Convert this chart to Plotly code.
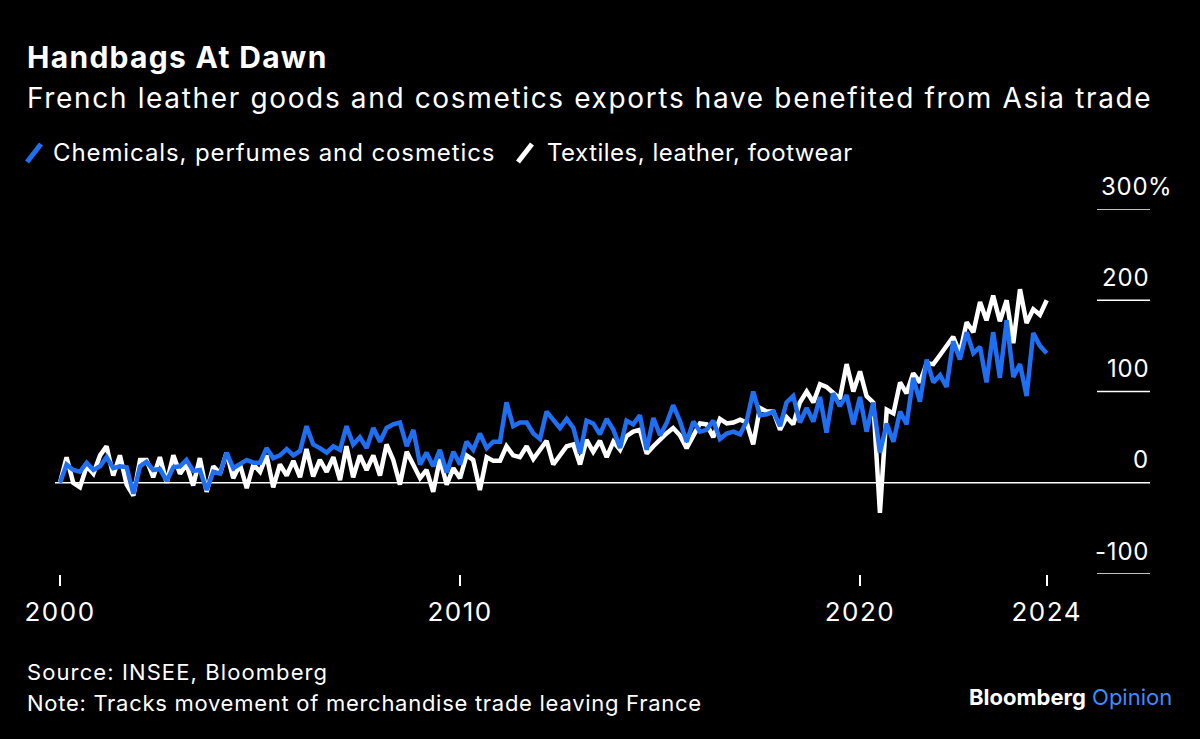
import pandas as pd
import plotly.graph_objects as go

# ---------------- data (bi-monthly, % change since Jan 2000) ----------------
start_month = "2000-01-01"

chemicals_perfumes_cosmetics = [
    0, 20, 14, 12, 22, 14, 18, 28, 16, 18,
    17, -12, 18, 23, 14, 15, 2, 17, 18, 25,
    13, 14, -8, 12, 10, 33, 16, 20, 25, 22,
    22, 38, 27, 30, 37, 30, 35, 62,
    42, 38, 33, 40, 36, 62, 42, 50, 38, 60,
    45, 60, 64, 66, 40, 58, 20, 33, 18, 36,
    11, 34, 20, 45, 36, 54, 38, 45, 45, 88,
    62, 66, 66, 54, 48, 78, 68,
    60, 70, 60, 32, 68, 65, 53, 70, 58, 38,
    68, 64, 74, 36, 71, 52, 65, 85, 68, 45,
    67, 56, 58, 68, 48, 54, 56, 53, 67, 100,
    74, 75, 78, 62, 88, 95, 66, 82,
    67, 94, 55, 98, 84, 96, 64, 94, 56, 88,
    33, 65, 45, 78, 64, 115, 89, 135, 110, 118,
    105, 155, 135, 165, 142, 149, 110, 165, 115, 178,
    116, 130, 95, 164, 150, 142,
]

textiles_leather_footwear = [
    0, 28, 0, -5, 18, 10, 30, 40, 8, 30,
    -2, -14, 25, 25, 6, 28, 0, 30, 10, 20,
    -3, 27, -10, 18, 10, 33, 5, 20, -6, 20,
    12, 30, -5, 20, 8, 24, 6, 37,
    7, 25, 12, 28, 3, 40, 6, 30, 14, 30,
    8, 42, 25, -2, 34, 20, 5, 14, -10, 26,
    -2, 16, 5, 30, 25, -8, 28, 24, 24, 40,
    30, 28, 40, 26, 36, 46, 20,
    30, 40, 42, 20, 47, 34, 46, 28, 45, 36,
    51, 56, 58, 32, 40, 48, 54, 60, 52, 38,
    52, 65, 64, 50, 70, 65, 66, 69, 66, 42,
    82, 78, 78, 58, 72, 64, 88, 100,
    88, 108, 105, 98, 92, 130, 100, 122, 95, 88,
    -33, 80, 76, 110, 98, 120, 110, 131, 130, 140,
    150, 160, 142, 176, 165, 198, 178, 205, 177, 200,
    153, 212, 175, 190, 184, 200,
]

series_names = ["Chemicals, perfumes and cosmetics", "Textiles, leather, footwear"]
x_tick_labels = ["2000", "2010", "2020", "2024"]
y_tick_values = [-100, 0, 100, 200, 300]
y_tick_labels = ["-100", "0", "100", "200", "300"]

dates = pd.date_range(start_month, periods=len(chemicals_perfumes_cosmetics), freq="2MS")
x_tick_dates = [pd.Timestamp("2000-01-01"), pd.Timestamp("2010-01-01"),
                pd.Timestamp("2020-01-01"), dates[-1]]

# ---------------- layout geometry ----------------
W, H = 1200, 739
L, R, T, B = 55, 50, 209, 165
PW, PH = W - L - R, H - T - B
BLUE = "#1f6ff2"
FONT = "Inter"


def px(x):
    return (x - L) / PW


def py(y):
    return (H - B - y) / PH


def spaced(txt, sp):
    return f"<span style='letter-spacing:{sp}px'>{txt}</span>"


year = pd.Timedelta(days=365.25)
x_start = pd.Timestamp("2000-01-01") - year * (5 / 40)
x_end = x_start + year * (PW / 40)

fig = go.Figure()
fig.add_trace(go.Scatter(x=dates, y=textiles_leather_footwear, mode="lines",
                         name=series_names[1], line=dict(color="white", width=4.5)))
fig.add_trace(go.Scatter(x=dates, y=chemicals_perfumes_cosmetics, mode="lines",
                         name=series_names[0], line=dict(color=BLUE, width=4.5)))

shapes = []
shapes.append(dict(type="line", xref="paper", yref="y", x0=0, x1=1, y0=0, y1=0,
                   line=dict(color="white", width=1.5), layer="below"))
for v in y_tick_values:
    if v == 0:
        continue
    shapes.append(dict(type="line", xref="paper", yref="y", x0=px(1097), x1=1, y0=v, y1=v,
                       line=dict(color="white", width=1.5)))
shapes.append(dict(type="line", xref="paper", yref="paper", x0=px(27), x1=px(41),
                   y0=py(162), y1=py(144), line=dict(color=BLUE, width=5)))
shapes.append(dict(type="line", xref="paper", yref="paper", x0=px(518), x1=px(532),
                   y0=py(162), y1=py(144), line=dict(color="white", width=5)))

annotations = []
for v, lab in zip(y_tick_values, y_tick_labels):
    annotations.append(dict(x=1, xref="paper", y=v, yref="y", text=spaced(lab, 0.8),
                            showarrow=False, xanchor="right", yanchor="middle", yshift=23,
                            xshift=1, font=dict(family=FONT, size=24, color="white")))
annotations.append(dict(x=1, xref="paper", y=300, yref="y", text="%", showarrow=False,
                        xanchor="left", yanchor="middle", yshift=23, xshift=-4,
                        font=dict(family=FONT, size=24, color="white")))

text_items = [
    (25, 57, "<b>" + spaced("Handbags At Dawn", 1.3) + "</b>", 30),
    (25, 98, spaced("French leather goods and cosmetics exports have benefited from Asia trade", 1.65), 28),
    (51, 152, spaced(series_names[0], 0.9), 24),
    (545, 152, spaced(series_names[1], 0.5), 24),
    (25, 672, spaced("Source: INSEE, Bloomberg", 1.1), 22),
    (25, 703, spaced("Note: Tracks movement of merchandise trade leaving France", 0.72), 22),
]
for xx, yy, txt, size in text_items:
    annotations.append(dict(x=px(xx), y=py(yy), xref="paper", yref="paper", showarrow=False,
                            xanchor="left", yanchor="middle", text=txt,
                            font=dict(family=FONT, size=size, color="white")))

annotations.append(dict(x=px(1174), y=py(697), xref="paper", yref="paper", showarrow=False,
                        xanchor="right", yanchor="middle",
                        text="<b>Bloomberg</b> <span style='color:#3b8cff'>Opinion</span>",
                        font=dict(family=FONT, size=22, color="white")))

fig.update_layout(
    width=W, height=H,
    margin=dict(l=L, r=R, t=T, b=B, pad=0),
    paper_bgcolor="black", plot_bgcolor="black",
    showlegend=False,
    shapes=shapes, annotations=annotations,
    font=dict(family=FONT, color="white"),
    xaxis=dict(range=[x_start, x_end], showgrid=False, zeroline=False, showline=False,
               tickmode="array", tickvals=x_tick_dates,
               ticktext=[spaced(t, 1.5) for t in x_tick_labels],
               ticks="outside", ticklen=11, tickwidth=1.5, tickcolor="white",
               ticklabelstandoff=4,
               tickfont=dict(family=FONT, size=26, color="white")),
    yaxis=dict(range=[-100, 300], showgrid=False, zeroline=False, showline=False,
               showticklabels=False, ticks=""),
)

fig.write_html("out.html", config={"displayModeBar": False},
               post_script="document.body.style.margin='0';document.body.style.background='black';")
